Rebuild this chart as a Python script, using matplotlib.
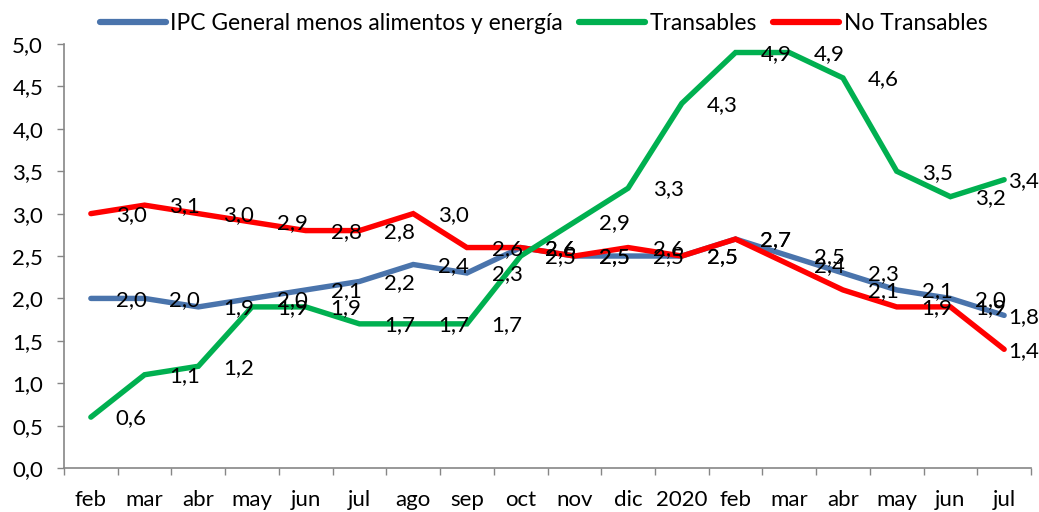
import matplotlib.pyplot as plt
import numpy as np

plt.rcParams['font.family'] = ['Lato', 'DejaVu Sans']

# Data
MONTHS = ['feb', 'mar', 'abr', 'may', 'jun', 'jul', 'ago', 'sep', 'oct', 'nov',
          'dic', '2020', 'feb', 'mar', 'abr', 'may', 'jun', 'jul']
IPC_SAE = [2.0, 2.0, 1.9, 2.0, 2.1, 2.2, 2.4, 2.3, 2.6, 2.5,
           2.5, 2.5, 2.7, 2.5, 2.3, 2.1, 2.0, 1.8]
TRANSABLES = [0.6, 1.1, 1.2, 1.9, 1.9, 1.7, 1.7, 1.7, 2.5, 2.9,
              3.3, 4.3, 4.9, 4.9, 4.6, 3.5, 3.2, 3.4]
NO_TRANSABLES = [3.0, 3.1, 3.0, 2.9, 2.8, 2.8, 3.0, 2.6, 2.6, 2.5,
                 2.6, 2.5, 2.7, 2.4, 2.1, 1.9, 1.9, 1.4]
Y_TICKS = [0.0, 0.5, 1.0, 1.5, 2.0, 2.5, 3.0, 3.5, 4.0, 4.5, 5.0]

BLUE = '#4A74AC'
GREEN = '#00B050'
RED = '#FF0000'
AXIS_GRAY = '#868686'
FS = 16

fig = plt.figure(figsize=(10.39, 5.12), dpi=100)
ax = fig.add_axes([0.0616, 0.0859, 0.9307, 0.8281])

x = np.arange(len(MONTHS))
series = [
    (IPC_SAE, BLUE, 'IPC General menos alimentos y energía', 2),
    (TRANSABLES, GREEN, 'Transables', 4),
    (NO_TRANSABLES, RED, 'No Transables', 3),
]
for vals, col, name, z in series:
    ax.plot(x, vals, color=col, lw=3.9, label=name, zorder=z,
            solid_capstyle='round', solid_joinstyle='miter')

# data labels (placed to the right of each point, like Excel "right")
for vals, col, name, z in series:
    for i, v in enumerate(vals):
        dx = 29 if i < len(vals) - 1 else 14
        ax.annotate(f'{v:.1f}'.replace('.', ','), (x[i], v), xytext=(dx, -1),
                    textcoords='offset points', ha='center', va='center',
                    fontsize=FS, color='black', zorder=10)

ax.set_xlim(-0.5, len(MONTHS) - 0.5)
ax.set_ylim(0, 5)
ax.set_yticks(Y_TICKS)
ax.set_yticklabels([f'{t:.1f}'.replace('.', ',') for t in Y_TICKS], fontsize=FS)
ax.set_xticks(x)
ax.set_xticklabels(MONTHS, fontsize=FS)
ax.set_xticks(np.arange(-0.5, len(MONTHS)), minor=True)
ax.tick_params(axis='x', which='major', length=0, pad=16)
ax.tick_params(axis='x', which='minor', length=5, color=AXIS_GRAY, width=1)
ax.tick_params(axis='y', length=5, color=AXIS_GRAY, width=1, pad=10)

for s in ['top', 'right']:
    ax.spines[s].set_visible(False)
for s in ['left', 'bottom']:
    ax.spines[s].set_color(AXIS_GRAY)
    ax.spines[s].set_linewidth(1.2)

leg = fig.legend(loc='center', bbox_to_anchor=(0.523, 0.955), ncol=3,
                 frameon=False, fontsize=16.4, handlelength=2.9,
                 handletextpad=0.2, columnspacing=0.7, borderaxespad=0)
for h in leg.get_lines():
    h.set_linewidth(4.5)
    h.set_solid_capstyle('round')

fig.savefig('out.png', dpi=100)
